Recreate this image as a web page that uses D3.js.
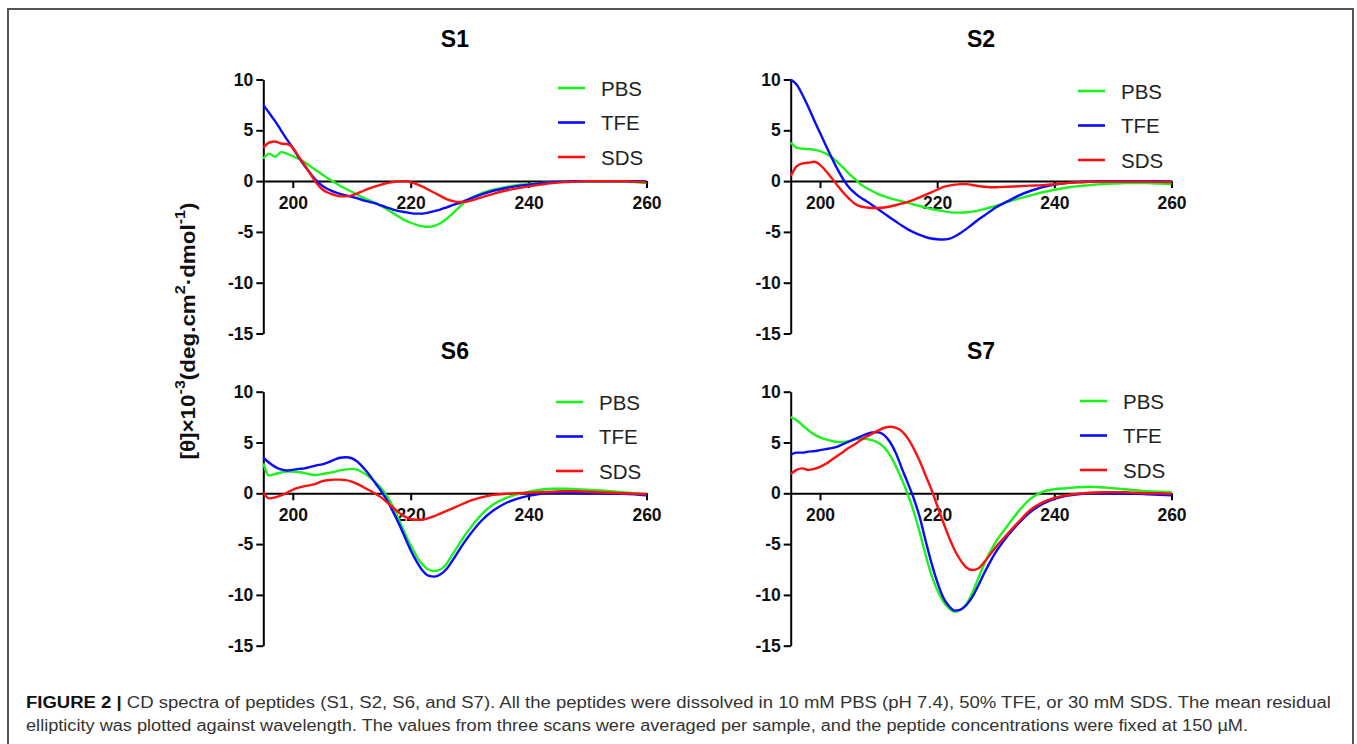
<!DOCTYPE html>
<html>
<head>
<meta charset="utf-8">
<script src="https://cdn.jsdelivr.net/npm/d3@7"></script>
<style>
  html, body { margin: 0; padding: 0; background: #fff; }
  svg { display: block; }
</style>
</head>
<body>
<svg id="chart" width="1357" height="744"></svg>
<script>
// ---------------- DATA ----------------
const wavelengths = [195,196,197,198,199,200,201,202,203,204,205,206,207,208,209,210,211,212,213,214,215,216,217,218,219,220,221,222,223,224,225,226,227,228,229,230,232,234,236,238,240,242,244,246,248,250,252,254,256,258,260];

const seriesNames = ["PBS", "TFE", "SDS"];
const panelTitles = ["S1", "S2", "S6", "S7"];
const xTickValues = [200, 220, 240, 260];
const yTickValues = [-15, -10, -5, 0, 5, 10];

const s1Pbs = [2.2,2.7,2.4,2.85,2.7,2.45,2.2,1.85,1.45,1.05,0.65,0.25,-0.1,-0.45,-0.75,-1.05,-1.35,-1.65,-1.9,-2.15,-2.45,-2.8,-3.15,-3.5,-3.85,-4.1,-4.3,-4.45,-4.5,-4.4,-4.15,-3.75,-3.25,-2.7,-2.15,-1.75,-1.2,-0.85,-0.6,-0.4,-0.3,-0.2,-0.1,-0.05,0,0,0,0,-0.05,-0.1,-0.2];
const s1Tfe = [7.5,6.7,5.9,5.0,4.1,3.25,2.35,1.5,0.75,0.05,-0.45,-0.8,-1.05,-1.25,-1.4,-1.55,-1.7,-1.9,-2.05,-2.2,-2.4,-2.6,-2.8,-2.95,-3.05,-3.15,-3.2,-3.2,-3.1,-2.95,-2.8,-2.6,-2.4,-2.2,-2.0,-1.75,-1.3,-0.95,-0.7,-0.5,-0.35,-0.2,-0.1,-0.05,0,0,0,0,0,-0.02,-0.05];
const s1Sds = [3.3,3.8,3.9,3.7,3.65,3.3,2.4,1.6,0.7,-0.2,-0.8,-1.15,-1.35,-1.5,-1.5,-1.4,-1.2,-0.95,-0.72,-0.52,-0.35,-0.2,-0.1,-0.03,0,-0.1,-0.3,-0.55,-0.85,-1.15,-1.45,-1.75,-1.95,-2.05,-2.05,-1.95,-1.6,-1.25,-0.95,-0.72,-0.52,-0.35,-0.2,-0.1,-0.05,0,0,0,-0.02,-0.05,-0.1];

const s2Pbs = [3.8,3.3,3.2,3.15,3.1,2.95,2.7,2.35,1.85,1.3,0.7,0.2,-0.35,-0.7,-1.0,-1.3,-1.5,-1.7,-1.85,-2.0,-2.15,-2.3,-2.45,-2.6,-2.75,-2.85,-2.95,-3.05,-3.1,-3.1,-3.07,-3.0,-2.9,-2.75,-2.6,-2.45,-2.05,-1.7,-1.4,-1.1,-0.85,-0.65,-0.5,-0.4,-0.3,-0.25,-0.2,-0.2,-0.2,-0.25,-0.3];
const s2Tfe = [10,9.5,8.5,7.3,6.0,4.75,3.5,2.3,1.15,0.15,-0.65,-1.2,-1.65,-2.0,-2.4,-2.8,-3.2,-3.6,-4.0,-4.4,-4.75,-5.05,-5.3,-5.5,-5.65,-5.72,-5.75,-5.68,-5.45,-5.1,-4.7,-4.25,-3.8,-3.4,-3.0,-2.6,-2.0,-1.4,-0.95,-0.6,-0.35,-0.2,-0.1,-0.05,0,0,0,0,0,-0.02,-0.05];
const s2Sds = [0.5,1.45,1.75,1.8,1.9,1.6,1.0,0.3,-0.45,-1.15,-1.75,-2.25,-2.5,-2.6,-2.65,-2.65,-2.6,-2.5,-2.35,-2.2,-2.05,-1.85,-1.6,-1.35,-1.1,-0.85,-0.6,-0.45,-0.35,-0.3,-0.3,-0.38,-0.48,-0.56,-0.6,-0.6,-0.55,-0.5,-0.45,-0.4,-0.3,-0.2,-0.12,-0.08,-0.05,-0.05,-0.05,-0.05,-0.05,-0.08,-0.1];

const s6Pbs = [2.95,1.75,1.9,2.05,2.15,2.15,2.1,2.0,1.85,1.8,1.9,2.0,2.1,2.25,2.35,2.4,2.3,2.0,1.6,1.1,0.5,-0.3,-1.3,-2.6,-3.9,-5.1,-6.2,-7.0,-7.5,-7.65,-7.5,-7.0,-6.1,-5.2,-4.3,-3.5,-2.1,-1.1,-0.5,-0.1,0.15,0.35,0.45,0.45,0.4,0.35,0.3,0.2,0.1,0,-0.2];
const s6Tfe = [3.5,3.0,2.6,2.35,2.25,2.3,2.4,2.45,2.6,2.75,2.85,3.05,3.3,3.5,3.55,3.45,3.1,2.5,1.8,1.0,0.2,-0.7,-1.8,-3.0,-4.3,-5.6,-6.7,-7.6,-8.1,-8.2,-8.0,-7.5,-6.7,-5.8,-4.9,-4.1,-2.7,-1.7,-1.0,-0.55,-0.25,-0.05,0.05,0.05,0.05,0,0,-0.05,-0.05,-0.1,-0.2];
const s6Sds = [0.1,-0.5,-0.4,-0.2,0.05,0.35,0.55,0.7,0.8,0.95,1.2,1.3,1.35,1.35,1.3,1.15,0.9,0.6,0.3,-0.05,-0.4,-0.9,-1.4,-1.9,-2.3,-2.55,-2.6,-2.6,-2.45,-2.25,-2.0,-1.75,-1.5,-1.25,-1.0,-0.75,-0.4,-0.15,-0.05,0,0.05,0.1,0.15,0.2,0.2,0.15,0.1,0.05,0,-0.05,-0.1];

const s7Pbs = [7.5,7.2,6.7,6.2,5.8,5.5,5.3,5.15,5.05,5.05,5.15,5.3,5.4,5.35,5.2,4.95,4.5,3.7,2.6,1.3,-0.1,-1.8,-3.8,-6.0,-8.0,-9.5,-10.6,-11.3,-11.65,-11.45,-10.9,-9.8,-8.4,-7.0,-5.8,-4.8,-3.2,-1.7,-0.5,0.15,0.4,0.5,0.6,0.65,0.6,0.5,0.4,0.3,0.2,0.15,0.1];
const s7Tfe = [3.8,4.0,4.0,4.1,4.15,4.25,4.35,4.45,4.6,4.85,5.1,5.35,5.6,5.85,6.0,6.0,5.7,5.0,3.9,2.4,1.0,-0.5,-2.3,-4.6,-6.8,-8.7,-10.2,-11.1,-11.55,-11.45,-11.0,-10.2,-9.1,-7.9,-6.8,-5.8,-4.2,-2.9,-1.8,-1.05,-0.55,-0.25,-0.1,0,0,0,-0.05,-0.05,-0.1,-0.15,-0.2];
const s7Sds = [1.9,2.3,2.45,2.3,2.4,2.6,2.9,3.3,3.7,4.1,4.5,4.85,5.25,5.6,5.9,6.2,6.45,6.55,6.45,6.1,5.4,4.4,3.2,1.8,0.4,-1.2,-2.8,-4.3,-5.6,-6.6,-7.3,-7.55,-7.4,-6.8,-6.05,-5.3,-4.0,-2.75,-1.6,-0.9,-0.45,-0.2,-0.05,0.05,0.1,0.12,0.1,0.05,0,0,-0.05];

const panelSeries = [
  [s1Pbs, s1Tfe, s1Sds],
  [s2Pbs, s2Tfe, s2Sds],
  [s6Pbs, s6Tfe, s6Sds],
  [s7Pbs, s7Tfe, s7Sds]
];

const yAxisLabel = [["[θ]×10", false], ["-3", true], ["(deg.cm", false], ["2", true], ["·dmol", false], ["-1", true], [")", false]];
const captionBold = "FIGURE 2 | ";
const captionLine1 = "CD spectra of peptides (S1, S2, S6, and S7). All the peptides were dissolved in 10 mM PBS (pH 7.4), 50% TFE, or 30 mM SDS. The mean residual";
const captionLine2 = "ellipticity was plotted against wavelength. The values from three scans were averaged per sample, and the peptide concentrations were fixed at 150 µM.";

// ---------------- LAYOUT / STYLE ----------------
const colors = ["#1cf21c", "#0a0aff", "#ff1010"];
const layout = [
  {x0: 263.3, x1: 646.5, yTop: 79.5,  yBot: 333.5, legX: 558,  legY: 88},
  {x0: 790.7, x1: 1171.5, yTop: 79.5, yBot: 333.5, legX: 1078, legY: 91},
  {x0: 263.3, x1: 646.5, yTop: 391.7, yBot: 645.7, legX: 556,  legY: 402},
  {x0: 790.7, x1: 1171.5, yTop: 391.7, yBot: 645.7, legX: 1080, legY: 401}
];

const svg = d3.select("#chart");
const FONT = "'Liberation Sans', Arial, Helvetica, sans-serif";

// frame
svg.append("path")
  .attr("d", "M8,760 L8,9 L1353,9 L1353,760")
  .attr("fill", "none")
  .attr("stroke", "#555")
  .attr("stroke-width", 2);

panelTitles.forEach((title, i) => {
  const L = layout[i];
  const x = d3.scaleLinear().domain([195, 260]).range([L.x0, L.x1]);
  const y = d3.scaleLinear().domain([-15, 10]).range([L.yBot, L.yTop]);
  const g = svg.append("g");

  // title
  g.append("text")
    .attr("x", (L.x0 + L.x1) / 2)
    .attr("y", L.yTop - 41)
    .attr("text-anchor", "middle")
    .attr("dominant-baseline", "central")
    .attr("font-family", FONT)
    .attr("font-weight", "bold")
    .attr("font-size", 23)
    .text(title);

  const fmt = d => String(d);
  // x axis at y = 0
  const xAxis = g.append("g")
    .attr("transform", `translate(0,${y(0)})`)
    .call(d3.axisBottom(x).tickValues(xTickValues).tickSize(7).tickSizeOuter(0).tickPadding(8).tickFormat(fmt));
  // y axis
  const yAxis = g.append("g")
    .attr("transform", `translate(${L.x0},0)`)
    .call(d3.axisLeft(y).tickValues(yTickValues).tickSize(7).tickSizeOuter(0).tickPadding(3).tickFormat(fmt));

  [xAxis, yAxis].forEach(a => {
    a.selectAll("path, line").attr("stroke", "#000").attr("stroke-width", 2);
    a.selectAll("text")
      .attr("font-family", FONT)
      .attr("font-weight", "bold")
      .attr("font-size", 17.5)
      .attr("fill", "#111");
  });

  // lines
  const line = d3.line()
    .x((d, k) => x(wavelengths[k]))
    .y(d => y(d))
    .curve(d3.curveMonotoneX);

  panelSeries[i].forEach((vals, s) => {
    g.append("path")
      .datum(vals)
      .attr("fill", "none")
      .attr("stroke", colors[s])
      .attr("stroke-width", 2.4)
      .attr("stroke-linejoin", "round")
      .attr("d", line);
  });

  // legend
  seriesNames.forEach((name, s) => {
    const ly = L.legY + s * 34.5;
    g.append("line")
      .attr("x1", L.legX).attr("x2", L.legX + 27)
      .attr("y1", ly).attr("y2", ly)
      .attr("stroke", colors[s]).attr("stroke-width", 2.6);
    g.append("text")
      .attr("x", L.legX + 43)
      .attr("y", ly)
      .attr("dominant-baseline", "central")
      .attr("font-family", FONT)
      .attr("font-size", 20.5)
      .attr("fill", "#222")
      .text(name);
  });
});

// y-axis label
const yl = svg.append("text")
  .attr("transform", "translate(188,331) rotate(-90)")
  .attr("text-anchor", "middle")
  .attr("dominant-baseline", "central")
  .attr("font-family", FONT)
  .attr("font-weight", "bold")
  .attr("font-size", 19.5)
  .attr("fill", "#111")
  .attr("textLength", 257)
  .attr("lengthAdjust", "spacingAndGlyphs");
yAxisLabel.forEach(([t, sup]) => {
  const ts = yl.append("tspan").text(t);
  if (sup) ts.attr("font-size", 14).attr("baseline-shift", "super");
});

// caption
const cap1 = svg.append("text")
  .attr("x", 26).attr("y", 707.5)
  .attr("font-family", FONT)
  .attr("font-size", 16)
  .attr("textLength", 1305)
  .attr("lengthAdjust", "spacingAndGlyphs");
cap1.append("tspan").attr("font-weight", "bold").attr("fill", "#111").text(captionBold);
cap1.append("tspan").attr("fill", "#333").text(captionLine1);

svg.append("text")
  .attr("x", 26).attr("y", 731)
  .attr("font-family", FONT)
  .attr("font-size", 16)
  .attr("fill", "#333")
  .attr("textLength", 1222)
  .attr("lengthAdjust", "spacingAndGlyphs")
  .text(captionLine2);
</script>
</body>
</html>
